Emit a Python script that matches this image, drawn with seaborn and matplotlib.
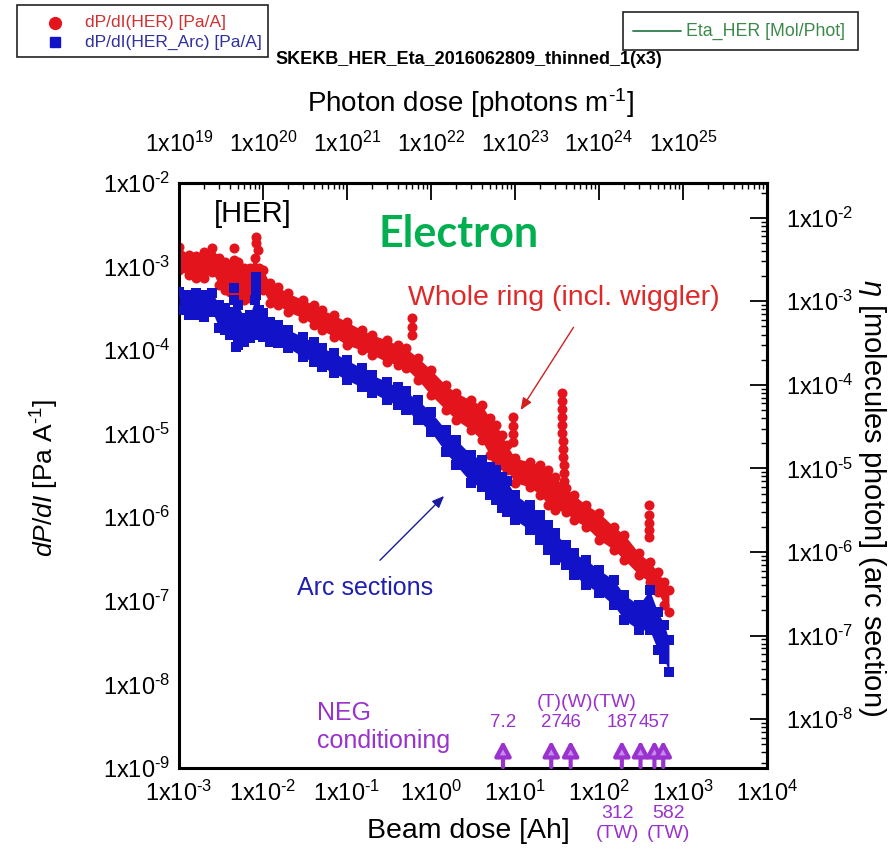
import numpy as np
import pandas as pd
import matplotlib
matplotlib.use("Agg")
import matplotlib.pyplot as plt
from matplotlib.patches import Rectangle
from matplotlib.lines import Line2D
from matplotlib.ticker import LogLocator, FixedLocator, FuncFormatter, NullFormatter
import seaborn as sns

# ---------------------------------------------------------------- data
# beam dose grid [Ah] shared by both pressure-rise bands
dose = [1.0e-3, 1.3e-3, 1.6e-3, 2.0e-3, 2.5e-3, 3.0e-3, 3.5e-3, 4.0e-3, 5.0e-3,
        6.0e-3, 7.0e-3, 8.0e-3, 9.0e-3, 1.0e-2, 1.2e-2, 1.5e-2, 2.0e-2, 3.0e-2,
        4.0e-2, 5.0e-2, 7.0e-2, 1.0e-1, 1.5e-1, 2.0e-1, 3.0e-1, 4.0e-1, 5.0e-1,
        7.0e-1, 1.0, 1.5, 2.0, 3.0, 4.0, 5.0, 6.0, 7.0, 8.0, 10, 15, 20, 25, 30,
        40, 50, 70, 100, 150, 200, 300, 400, 500, 600, 680]

# dP/dI, whole ring (HER) [Pa/A] : upper and lower edge of the scatter band
her_upper = [1.71e-3, 1.38e-3, 1.34e-3, 1.50e-3, 1.67e-3, 1.27e-3, 1.14e-3, 9.9e-4,
             1.14e-3, 9.6e-4, 9.6e-4, 1.27e-3, 9.6e-4, 9.1e-4, 6.4e-4, 5.7e-4, 4.8e-4,
             4.0e-4, 3.5e-4, 3.03e-4, 2.64e-4, 2.17e-4, 1.75e-4, 1.52e-4, 1.32e-4,
             1.15e-4, 1.06e-4, 8.1e-5, 5.8e-5, 3.8e-5, 3.1e-5, 2.5e-5, 2.2e-5, 1.55e-5,
             1.27e-5, 9.7e-6, 7.3e-6, 5.1e-6, 4.6e-6, 4.2e-6, 3.7e-6, 3.0e-6, 2.25e-6,
             1.85e-6, 1.41e-6, 1.13e-6, 7.7e-7, 6.2e-7, 3.7e-7, 2.93e-7, 2.22e-7,
             1.69e-7, 1.35e-7]
her_lower = [9.1e-4, 7.9e-4, 7.3e-4, 7.3e-4, 8.6e-4, 6.0e-4, 5.2e-4, 5.0e-4, 4.0e-4,
             4.0e-4, 4.2e-4, 5.2e-4, 5.2e-4, 5.2e-4, 3.7e-4, 3.5e-4, 2.86e-4, 2.43e-4,
             2.0e-4, 1.75e-4, 1.44e-4, 1.15e-4, 1.0e-4, 8.8e-5, 7.2e-5, 6.7e-5, 6.1e-5,
             4.4e-5, 2.9e-5, 1.93e-5, 1.46e-5, 1.11e-5, 8.4e-6, 5.6e-6, 4.9e-6, 4.2e-6,
             3.7e-6, 2.6e-6, 2.3e-6, 1.85e-6, 1.41e-6, 1.23e-6, 1.16e-6, 9.3e-7, 7.7e-7,
             5.4e-7, 4.1e-7, 3.1e-7, 2.05e-7, 1.69e-7, 1.28e-7, 8.9e-8, 7.4e-8]

# dP/dI, arc sections only [Pa/A]
arc_upper = [5.0e-4, 4.6e-4, 4.8e-4, 4.6e-4, 4.8e-4, 3.5e-4, 3.2e-4, 2.86e-4, 3.5e-4,
             2.43e-4, 2.64e-4, 4.0e-4, 3.03e-4, 2.79e-4, 2.17e-4, 2.0e-4, 1.75e-4,
             1.44e-4, 1.25e-4, 1.06e-4, 9.3e-5, 7.6e-5, 6.1e-5, 5.0e-5, 4.2e-5, 3.6e-5,
             3.2e-5, 2.5e-5, 1.82e-5, 1.11e-5, 8.4e-6, 5.6e-6, 4.9e-6, 4.0e-6, 3.7e-6,
             3.0e-6, 2.7e-6, 1.85e-6, 1.41e-6, 1.07e-6, 8.1e-7, 6.5e-7, 4.7e-7, 3.7e-7,
             3.1e-7, 2.35e-7, 1.78e-7, 1.18e-7, 8.9e-8, 1.35e-7, 7.4e-8, 5.2e-8, 3.4e-8]
arc_lower = [3.03e-4, 2.64e-4, 2.64e-4, 2.49e-4, 2.86e-4, 1.85e-4, 1.75e-4, 1.52e-4,
             1.15e-4, 1.25e-4, 1.40e-4, 1.75e-4, 1.52e-4, 1.44e-4, 1.25e-4, 1.22e-4,
             1.06e-4, 8.3e-5, 7.2e-5, 6.3e-5, 5.3e-5, 4.4e-5, 3.6e-5, 3.1e-5, 2.5e-5,
             2.2e-5, 1.93e-5, 1.46e-5, 1.05e-5, 6.0e-6, 4.2e-6, 2.6e-6, 2.3e-6, 1.85e-6,
             1.61e-6, 1.29e-6, 1.16e-6, 9.3e-7, 7.1e-7, 5.4e-7, 4.1e-7, 3.1e-7, 2.7e-7,
             2.05e-7, 1.55e-7, 1.25e-7, 8.9e-8, 5.9e-8, 4.5e-8, 4.5e-8, 2.6e-8, 2.0e-8,
             1.42e-8]

# isolated pressure bursts
her_spike_dose = [4.5e-3, 4.5e-3, 8.3e-3, 8.3e-3, 8.8e-3, 0.6, 0.6, 0.6, 9.5, 9.5, 9.5,
                  9.5, 36, 36, 36, 36, 36, 36, 37, 37, 37, 38, 38, 38, 390, 390, 390,
                  390, 390]
her_spike_value = [1.67e-3, 1.2e-3, 2.26e-3, 1.9e-3, 1.6e-3, 2.4e-4, 1.9e-4, 1.5e-4,
                   1.59e-5, 1.25e-5, 1.0e-5, 8.0e-6, 3.1e-5, 2.47e-5, 1.98e-5, 1.59e-5,
                   1.27e-5, 1.02e-5, 8.2e-6, 6.6e-6, 5.3e-6, 4.2e-6, 3.4e-6, 2.7e-6,
                   1.41e-6, 1.07e-6, 8.6e-7, 7.1e-7, 5.8e-7]
arc_spike_dose = [4.5e-3, 4.5e-3, 4.8e-3, 8.3e-3, 8.3e-3, 8.3e-3]
arc_spike_value = [5.5e-4, 4.0e-4, 1.09e-4, 7.5e-4, 6.0e-4, 4.6e-4]

# NEG conditioning events [Ah]
neg_dose = [7.2, 27, 46, 187, 312, 457, 582]
neg_label_above = ["7.2", "27", "46", "187", "", "457", ""]
neg_tags_above = "(T)(W)(TW)"          # for the 27, 46 and 187 Ah events
neg_label_below = ["", "", "", "", "312", "", "582"]
neg_tag_below = ["", "", "", "", "(TW)", "", "(TW)"]
neg_below_shift = [0, 0, 0, 0, -16.5, 0, 3.5]   # label offset [pt]

# tick decades
photon_ticks = [1e19, 1e20, 1e21, 1e22, 1e23, 1e24, 1e25]

# axis conversions
PHOTONS_PER_AH = 1.0e22     # photons m^-1 per Ah
ETA_PER_DPDI = 2.6          # eta per (Pa/A), arc section

RED = "#e3141b"
BLUE = "#1212c8"
PURPLE = "#9a32cd"

# ---------------------------------------------------------------- style
sns.set_theme(style="white")
plt.rcParams["font.family"] = ["Liberation Sans", "DejaVu Sans"]
plt.rcParams["mathtext.fontset"] = "custom"
plt.rcParams["mathtext.rm"] = "Liberation Sans"
plt.rcParams["mathtext.it"] = "Liberation Sans:italic"
plt.rcParams["mathtext.bf"] = "Liberation Sans:bold"
plt.rcParams["axes.unicode_minus"] = False
plt.rcParams["text.color"] = "black"
plt.rcParams["xtick.color"] = "black"
plt.rcParams["ytick.color"] = "black"

W, H = 895, 849


def fx(px):
    return px / W


def fy(py):
    return 1 - py / H


fig = plt.figure(figsize=(W / 100, H / 100), dpi=100)
fig.patch.set_facecolor("white")
ax = fig.add_axes([fx(179), fy(768), (767 - 179) / W, (768 - 183) / H])
ax.set_xscale("log")
ax.set_yscale("log")
ax.set_xlim(1e-3, 1e4)
ax.set_ylim(1e-9, 1e-2)

# ---------------------------------------------------------------- bands
ax.fill_between(dose, her_lower, her_upper, color=RED, lw=0, zorder=1)
her_df = pd.DataFrame({
    "dose": dose + dose + her_spike_dose,
    "dpdi": her_upper + her_lower + her_spike_value,
})
sns.scatterplot(data=her_df, x="dose", y="dpdi", marker="o", color=RED, s=52,
                linewidth=0, ax=ax, zorder=2, legend=False)

ax.fill_between(dose, arc_lower, arc_upper, color=BLUE, lw=0, zorder=3)
arc_df = pd.DataFrame({
    "dose": dose + dose + arc_spike_dose,
    "dpdi": arc_upper + arc_lower + arc_spike_value,
})
sns.scatterplot(data=arc_df, x="dose", y="dpdi", marker="s", color=BLUE, s=44,
                linewidth=0, ax=ax, zorder=4, legend=False)

# ---------------------------------------------------------------- axes
def sci(v, pos):
    e = int(round(np.log10(v)))
    return r"$\mathregular{1x10^{\text{%d}}}$" % e


def log_axis(axis, major=None):
    if major is None:
        axis.set_major_locator(LogLocator(base=10, numticks=20))
    else:
        axis.set_major_locator(FixedLocator(major))
    axis.set_minor_locator(LogLocator(base=10, subs=np.arange(2, 10), numticks=20))
    axis.set_major_formatter(FuncFormatter(sci))
    axis.set_minor_formatter(NullFormatter())


log_axis(ax.xaxis)
log_axis(ax.yaxis)
ax.set_xlabel("")
ax.set_ylabel("")
ax.tick_params(which="major", direction="in", length=12, width=1.3,
               labelsize=17, top=False, right=False)
ax.tick_params(which="minor", direction="in", length=4.5, width=1.0,
               top=False, right=False)
ax.tick_params(axis="x", which="major", pad=9)
ax.tick_params(axis="y", which="major", pad=6)
for s in ax.spines.values():
    s.set_linewidth(2.2)
    s.set_color("black")

top = ax.secondary_xaxis("top", functions=(lambda a: a * PHOTONS_PER_AH,
                                            lambda p: p / PHOTONS_PER_AH))
log_axis(top.xaxis, photon_ticks)
top.tick_params(which="major", direction="in", length=12, width=1.3, labelsize=16.5,
                pad=19)
top.tick_params(which="minor", direction="in", length=4.5, width=1.0)
top.spines["top"].set_linewidth(2.2)

right = ax.secondary_yaxis("right", functions=(lambda v: v * ETA_PER_DPDI,
                                               lambda e: e / ETA_PER_DPDI))
log_axis(right.yaxis)
right.tick_params(which="major", direction="in", length=12, width=1.3, labelsize=17,
                  pad=14)
right.tick_params(which="minor", direction="in", length=4.5, width=1.0)
right.spines["right"].set_linewidth(2.2)

# axis titles
fig.text(fx(468), fy(831), "Beam dose [Ah]", ha="center", va="center", fontsize=20.5)
fig.text(fx(470), fy(103), r"Photon dose [photons m$^{\text{-1}}$]", ha="center",
         va="center", fontsize=20)
fig.text(fx(45), fy(478), r"$\mathit{dP/dI}$ [Pa A$^{\text{-1}}$]", ha="center",
         va="center", rotation=90, fontsize=19)
fig.text(fx(872), fy(498), r"$\mathit{\eta}$ [molecules photon] (arc section)",
         ha="center", va="center", rotation=-90, fontsize=21)

# ---------------------------------------------------------------- annotations
fig.text(fx(214), fy(214), "[HER]", ha="left", va="center", fontsize=21)
fig.text(fx(459), fy(234), "Electron", ha="center", va="center", fontsize=31,
         fontweight="bold", color="#00b050", family=["Lato", "DejaVu Sans"])
fig.text(fx(564), fy(298), "Whole ring (incl. wiggler)", ha="center", va="center",
         fontsize=20.5, color="#e02828")
fig.text(fx(365), fy(588), "Arc sections", ha="center", va="center", fontsize=18,
         color="#2020b0")
ax.annotate("", xy=(11.2, 1.8e-5), xytext=(51.8, 2.0e-4),
            arrowprops=dict(arrowstyle="-|>,head_length=0.6,head_width=0.25",
                            color="#d02020", lw=1.0))
ax.annotate("", xy=(1.51, 1.9e-6), xytext=(0.234, 2.9e-7),
            arrowprops=dict(arrowstyle="-|>,head_length=0.6,head_width=0.25",
                            color="#1a1aa0", lw=1.0))

fig.text(fx(317), fy(713), "NEG", ha="left", va="center", fontsize=18, color=PURPLE)
fig.text(fx(317), fy(741), "conditioning", ha="left", va="center", fontsize=18,
         color=PURPLE)

for d, la, lb, tb, sh in zip(neg_dose, neg_label_above, neg_label_below,
                             neg_tag_below, neg_below_shift):
    ax.annotate("", xy=(d, 2.3e-9), xytext=(d, 0.95e-9),
                arrowprops=dict(arrowstyle="-|>,head_length=0.75,head_width=0.4",
                                lw=3, color=PURPLE, fc="#c98af0"),
                annotation_clip=False)
    if la:
        ax.text(d, 3.5e-9, la, ha="center", va="center", fontsize=13.5, color=PURPLE)
    if lb:
        ax.annotate(lb, xy=(d, 1e-9), xytext=(sh, -33), textcoords="offset points",
                    ha="center", va="center", fontsize=14, color=PURPLE,
                    annotation_clip=False)
    if tb:
        ax.annotate(tb, xy=(d, 1e-9), xytext=(sh, -47), textcoords="offset points",
                    ha="center", va="center", fontsize=14, color=PURPLE,
                    annotation_clip=False)
# the three tags sit together above the 27, 46 and 187 Ah events
tag_x = float(np.sqrt(neg_dose[1] * neg_dose[3]))
ax.text(tag_x, 6.0e-9, neg_tags_above, ha="center", va="center", fontsize=14,
        color=PURPLE)

# ---------------------------------------------------------------- header
fig.text(fx(469), fy(60), "SKEKB_HER_Eta_2016062809_thinned_1(x3)", ha="center",
         va="center", fontsize=13, fontweight="bold")

fig.add_artist(Rectangle((fx(17), fy(57)), (268 - 17) / W, (57 - 5) / H,
                         transform=fig.transFigure, fill=False, lw=1.2, ec="#222222"))
fig.add_artist(Line2D([fx(55)], [fy(23)], marker="o", ms=8.5, color=RED, lw=0,
                      transform=fig.transFigure))
fig.add_artist(Line2D([fx(55)], [fy(42)], marker="s", ms=7.5, color=BLUE, lw=0,
                      transform=fig.transFigure))
fig.text(fx(85), fy(23), "dP/dI(HER) [Pa/A]", ha="left", va="center", fontsize=12.5,
         color="#d03030")
fig.text(fx(85), fy(42), "dP/dI(HER_Arc) [Pa/A]", ha="left", va="center",
         fontsize=12.5, color="#3030a0")

fig.add_artist(Rectangle((fx(623), fy(50)), (858 - 623) / W, (50 - 12) / H,
                         transform=fig.transFigure, fill=False, lw=1.2, ec="#222222"))
fig.add_artist(Line2D([fx(633), fx(681)], [fy(31), fy(31)], color="#2e7d4f", lw=1.3,
                      transform=fig.transFigure))
fig.text(fx(686), fy(31), "Eta_HER [Mol/Phot]", ha="left", va="center", fontsize=12.8,
         color="#3c8a4a")

fig.savefig("out.png", dpi=100)
